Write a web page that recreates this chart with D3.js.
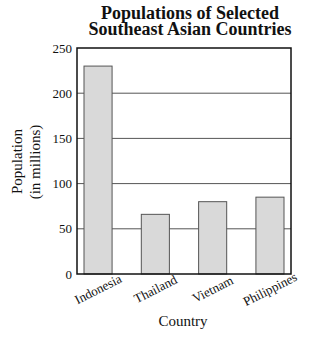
<!DOCTYPE html>
<html><head><meta charset="utf-8">
<script src="https://cdn.jsdelivr.net/npm/d3@7"></script>
<style>body{margin:0;background:#fff}svg{display:block}text{font-family:"Liberation Serif","Times New Roman",serif;fill:#111}</style>
</head><body>
<script>
const categories = ["Indonesia", "Thailand", "Vietnam", "Philippines"];
const populations = [230, 66, 80, 85];
const yTicks = [0, 50, 100, 150, 200, 250];
const titleLines = ["Populations of Selected", "Southeast Asian Countries"];

const W = 315, H = 341;
const frame = {l: 77, r: 291, t: 48, b: 274};
const svg = d3.select("body").append("svg").attr("width", W).attr("height", H);

const y = d3.scaleLinear().domain([0, 250]).range([frame.b, frame.t]);
const x = d3.scaleBand().domain(categories).range([84, 284]).paddingInner(0.51).paddingOuter(0);

// gridlines
svg.append("g").selectAll("line").data(yTicks.filter(d => d > 0 && d < 250)).join("line")
  .attr("x1", frame.l).attr("x2", frame.r)
  .attr("y1", d => y(d)).attr("y2", d => y(d))
  .attr("stroke", "#555").attr("stroke-width", 1);

// bars
svg.append("g").selectAll("rect").data(categories).join("rect")
  .attr("x", d => x(d)).attr("width", x.bandwidth())
  .attr("y", (d, i) => y(populations[i])).attr("height", (d, i) => frame.b - y(populations[i]))
  .attr("fill", "#d9d9d9").attr("stroke", "#555").attr("stroke-width", 1);

// frame
svg.append("rect").attr("x", frame.l).attr("y", frame.t)
  .attr("width", frame.r - frame.l).attr("height", frame.b - frame.t)
  .attr("fill", "none").attr("stroke", "#111").attr("stroke-width", 1.5);

// y axis
const yAxis = svg.append("g").attr("transform", `translate(${frame.l},0)`)
  .call(d3.axisLeft(y).tickValues(yTicks).tickSize(0).tickPadding(5));
yAxis.select(".domain").remove();
yAxis.selectAll("text").style("font-size", "13px").attr("fill", "#111")
  .style("font-family", '"Liberation Serif","Times New Roman",serif');

// x axis labels
const xAxis = svg.append("g").attr("transform", `translate(0,${frame.b})`)
  .call(d3.axisBottom(x).tickSize(0).tickPadding(0));
xAxis.select(".domain").remove();
xAxis.selectAll("text")
  .style("font-size", "13px").attr("fill", "#111")
  .style("font-family", '"Liberation Serif","Times New Roman",serif')
  .attr("text-anchor", "middle").attr("dy", "0.35em").attr("y", 0)
  .attr("transform", "translate(0,15) rotate(-27)");

// title
svg.append("text").attr("x", 190).attr("text-anchor", "middle")
  .style("font-size", "18px").style("font-weight", "bold")
  .selectAll("tspan").data(titleLines).join("tspan")
  .attr("x", 190).attr("y", (d, i) => 18.5 + i * 16.7).text(d => d);

// y label
svg.append("text").attr("transform", "translate(22,161.5) rotate(-90)")
  .attr("text-anchor", "middle").style("font-size", "15px").text("Population");
svg.append("text").attr("transform", "translate(39.5,162) rotate(-90)")
  .attr("text-anchor", "middle").style("font-size", "15px").text("(in millions)");

// x label
svg.append("text").attr("x", 183).attr("y", 326).attr("text-anchor", "middle")
  .style("font-size", "15px").text("Country");
</script>
</body></html>
